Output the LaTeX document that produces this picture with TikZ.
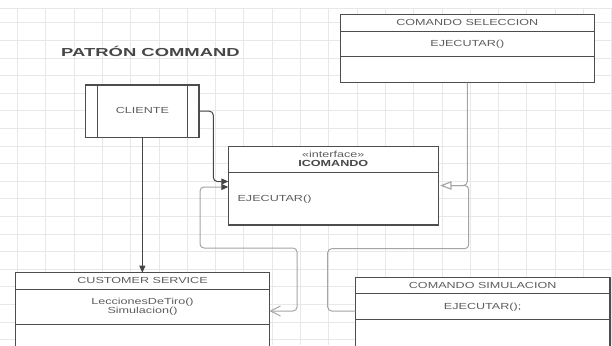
\documentclass[tikz,border=0pt]{standalone}
\usepackage{fontspec}
\setmainfont{Liberation Sans}
\usetikzlibrary{arrows.meta}
\definecolor{gridline}{HTML}{E8E8E8}
\definecolor{boxline}{HTML}{4D4D4D}
\definecolor{txtgray}{HTML}{5E5E5E}
\definecolor{titlegray}{HTML}{474747}
\definecolor{linkgray}{HTML}{A5A5A5}
\definecolor{linkdark}{HTML}{454545}
\begin{document}
\begin{tikzpicture}[x=1pt,y=-1pt,
  umlbox/.style={draw=boxline, line width=1.1pt, fill=white, inner sep=0pt, outer sep=0pt},
  divider/.style={draw=boxline, line width=1.1pt},
  lbl/.style={font=\fontsize{8.8}{9.4}\selectfont, text=txtgray, inner sep=0pt,
    text height=6.3pt, text depth=0pt, xscale=1.43},
  lblbold/.style={lbl, font=\fontsize{8.8}{9.4}\selectfont\bfseries, text=titlegray},
  titletext/.style={font=\fontsize{11.6}{13}\selectfont\bfseries, text=titlegray,
    inner sep=0pt, xscale=1.59},
  darklink/.style={draw=linkdark, line width=1pt, rounded corners=4pt},
  greylink/.style={draw=linkgray, line width=1pt, rounded corners=4pt},
  filledtip/.tip={Triangle[length=7pt,width=6pt,color=linkdark]},
  opentip/.tip={Triangle[open,length=11pt,width=8pt,fill=white,color=linkgray]},
  barbtip/.tip={Straight Barb[length=10pt,width=10pt,color=linkgray]}]

\useasboundingbox (0,0) rectangle (612,345);
\clip (0,0) rectangle (612,345);

% background grid
\draw[gridline, line width=0.6pt] (0,8) -- (612,8);
\foreach \i in {0,...,21}
  \draw[gridline, line width=0.6pt] ({17.3+28.3*\i},8) -- ({17.3+28.3*\i},345);
\foreach \j in {0,...,18}
  \draw[gridline, line width=0.6pt] (0,{22.7+17.6*\j}) -- (612,{22.7+17.6*\j});

% title
\node[titletext] (title) at (150.5,51.7) {PATRÓN COMMAND};

% client box (with side bars)
\node[umlbox, minimum width=113.3pt, minimum height=52.3pt] (cliente) at (142.35,111.15) {};
\draw[divider] ([xshift=11.6pt]cliente.north west) -- ([xshift=11.6pt]cliente.south west);
\draw[divider] ([xshift=-11.6pt]cliente.north east) -- ([xshift=-11.6pt]cliente.south east);
\node[lbl] (tcliente) at (142.35,110.5) {CLIENTE};

% interface
\node[umlbox, minimum width=210pt, minimum height=78.3pt] (icomando) at (333.3,185.85) {};
\draw[divider] ([yshift=-25.6pt]icomando.north west) -- ([yshift=-25.6pt]icomando.north east);
\node[lbl] (tiface) at (333.3,154.3) {«interface»};
\node[lblbold] (ticom) at (333.3,163.3) {ICOMANDO};
\node[lbl, anchor=west] (tiexec) at (237.3,198.3) {EJECUTAR()};

% selection command
\node[umlbox, minimum width=254pt, minimum height=68pt] (sel) at (467.3,48.7) {};
\draw[divider] ([yshift=-17pt]sel.north west) -- ([yshift=-17pt]sel.north east);
\draw[divider] ([yshift=-42pt]sel.north west) -- ([yshift=-42pt]sel.north east);
\node[lbl] (tselh) at (467.3,22.6) {COMANDO SELECCION};
\node[lbl] (tsele) at (467.3,43.6) {EJECUTAR()};

% customer service
\node[umlbox, minimum width=253.6pt, minimum height=87.3pt] (cs) at (142.5,316.35) {};
\draw[divider] ([yshift=-16.6pt]cs.north west) -- ([yshift=-16.6pt]cs.north east);
\draw[divider] ([yshift=-52pt]cs.north west) -- ([yshift=-52pt]cs.north east);
\node[lbl] (tcsh) at (142.5,280.2) {CUSTOMER SERVICE};
\node[lbl] (tcsa) at (142.5,301.2) {LeccionesDeTiro()};
\node[lbl] (tcsb) at (142.5,310.5) {Simulacion()};

% simulation command
\node[umlbox, minimum width=254.7pt, minimum height=82.3pt] (sim) at (482.65,318.85) {};
\draw[divider] ([yshift=-16pt]sim.north west) -- ([yshift=-16pt]sim.north east);
\draw[divider] ([yshift=-41.6pt]sim.north west) -- ([yshift=-41.6pt]sim.north east);
\node[lbl] (tsimh) at (482.65,285.2) {COMANDO SIMULACION};
\node[lbl] (tsime) at (482.65,306.6) {EJECUTAR();};

% client -> customer service
\draw[darklink, -filledtip] (cliente.south) -- (cliente.south |- cs.north);

% client -> interface
\coordinate (k1) at (213.3,181.5);
\draw[darklink, -filledtip] (cliente.east) -| (k1) -- (k1 -| icomando.west);

% customer service <-> interface
\coordinate (gA) at (297,311);
\coordinate (gB) at (200,248);
\coordinate (gC) at (200,187);
\draw[greylink, barbtip-filledtip] (gA -| cs.east) -- (gA) |- (gB) -- (gC) -- (gC -| icomando.west);

% realizations of the interface
\coordinate (rA) at (467.5,185.5);
\draw[greylink, -opentip, shorten >=2pt] (sel.south) |- (rA -| icomando.east);
\coordinate (sA) at (327.7,311);
\coordinate (sB) at (468.7,248.7);
\draw[greylink, -opentip, shorten >=2pt] (sA -| sim.west) -- (sA) |- (sB) -- (sB |- rA) -- (rA -| icomando.east);

\end{tikzpicture}
\end{document}
